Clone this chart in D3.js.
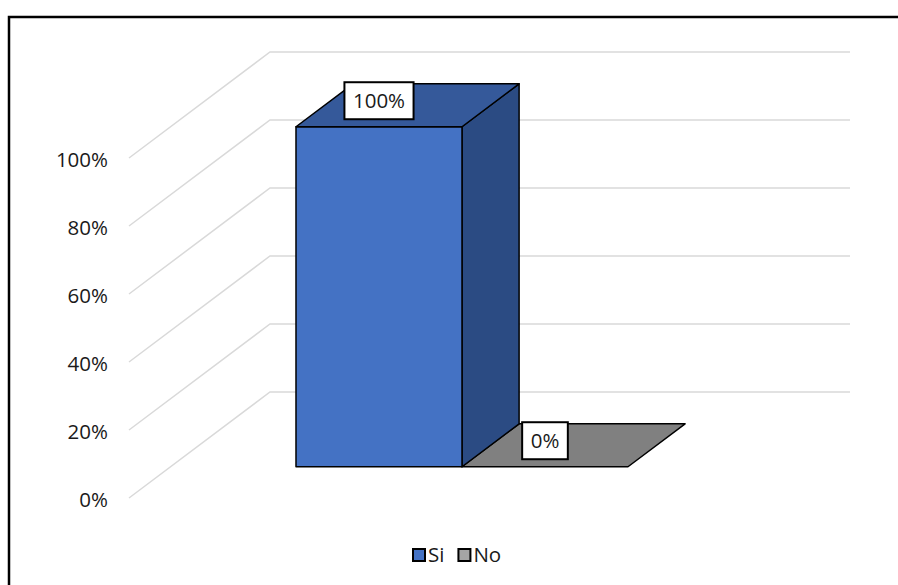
<!DOCTYPE html>
<html>
<head>
<meta charset="utf-8">
<script src="https://cdn.jsdelivr.net/npm/d3@7"></script>
<style>
  html, body { margin: 0; padding: 0; background: #fff; }
  svg { display: block; font-family: "Open Sans", sans-serif; }
</style>
</head>
<body>
<svg id="chart" width="898" height="585"></svg>
<script>
// Survey answers and their share
const categories = ["Si", "No"];
const values = [1.0, 0.0];
const tickValues = [0, 0.2, 0.4, 0.6, 0.8, 1.0];
const frontColors = ["#4472C4", "#A5A5A5"];
const topColors = ["#35599A", "#808080"];
const sideColors = ["#2B4B83", "#6E6E6E"];

const svg = d3.select("#chart");
const FONT = 20.5;

// Oblique 3D projection: full depth of the plot box
const DEPTH_X = 141, DEPTH_Y = -106;
const barZ0 = 0.295, barZ1 = 0.70;

// Value scale on the front plane
const y = d3.scaleLinear().domain([0, 1]).range([498, 158]);
// Category scale on the front plane
const x = d3.scaleBand().domain(categories).range([254.4, 586.4]).paddingInner(0).paddingOuter(0);
const wallLeft = 129, wallRight = 709;

const proj = (px, py, z) => [px + z * DEPTH_X, py + z * DEPTH_Y];

// Outer frame
svg.append("rect")
  .attr("x", 9).attr("y", 17).attr("width", 1000).attr("height", 1000)
  .attr("fill", "none").attr("stroke", "#000").attr("stroke-width", 2.5);

// Gridlines on the side wall and back wall
const grid = svg.append("g");
tickValues.forEach(t => {
  const a = proj(wallLeft, y(t), 0);
  const b = proj(wallLeft, y(t), 1);
  const c = proj(wallRight, y(t), 1);
  grid.append("path")
    .attr("d", `M${a[0]},${a[1]}L${b[0]},${b[1]}L${c[0]},${c[1]}`)
    .attr("fill", "none").attr("stroke", "#D9D9D9").attr("stroke-width", 1.5);
});

// Value axis labels
const axis = d3.axisLeft(y).tickValues(tickValues).tickFormat(d3.format(".0%")).tickSize(0).tickPadding(21);
const axG = svg.append("g").attr("transform", `translate(${wallLeft},2)`).call(axis);
axG.select(".domain").remove();
axG.selectAll("text").attr("font-size", FONT).attr("fill", "#1a1a1a").attr("font-family", "Open Sans, sans-serif");

// Bars (drawn back-to-front: right category first)
const bars = categories.map((c, i) => ({ c, v: values[i], i })).reverse();
const barG = svg.append("g");
bars.forEach(d => {
  const x0 = x(d.c), x1 = x(d.c) + x.bandwidth();
  const fTL = proj(x0, y(d.v), barZ0), fTR = proj(x1, y(d.v), barZ0);
  const fBL = proj(x0, y(0), barZ0), fBR = proj(x1, y(0), barZ0);
  const bTL = proj(x0, y(d.v), barZ1), bTR = proj(x1, y(d.v), barZ1);
  const bBR = proj(x1, y(0), barZ1);
  const poly = pts => "M" + pts.map(p => p.join(",")).join("L") + "Z";
  const style = sel => sel.attr("stroke", "#000").attr("stroke-width", 1.5).attr("stroke-linejoin", "round");
  if (d.v > 0) {
    style(barG.append("path").attr("d", poly([fTR, bTR, bBR, fBR])).attr("fill", sideColors[d.i]));
    style(barG.append("path").attr("d", poly([fTL, fTR, fBR, fBL])).attr("fill", frontColors[d.i]));
  }
  style(barG.append("path").attr("d", poly([fTL, bTL, bTR, fTR])).attr("fill", topColors[d.i]));
});

// Data labels in white boxes
const labG = svg.append("g");
categories.forEach((c, i) => {
  const cx = x(c) + x.bandwidth() / 2 + barZ0 * DEPTH_X;
  const cy = y(values[i]) + barZ0 * DEPTH_Y - 26;
  const g = labG.append("g").attr("transform", `translate(${cx},${cy})`);
  const rect = g.append("rect").attr("fill", "#fff").attr("stroke", "#000").attr("stroke-width", 2);
  const txt = g.append("text").text(d3.format(".0%")(values[i]))
    .attr("text-anchor", "middle").attr("dy", "0.36em")
    .attr("font-size", FONT).attr("fill", "#1a1a1a");
  const w = txt.node().getComputedTextLength() + 17;
  rect.attr("x", -w / 2).attr("y", -18.5).attr("width", w).attr("height", 37);
});

// Legend
const legend = svg.append("g").attr("transform", "translate(412,548)");
let lx = 0;
categories.forEach((c, i) => {
  const g = legend.append("g").attr("transform", `translate(${lx},0)`);
  g.append("rect").attr("x", 1).attr("y", 1).attr("width", 12).attr("height", 12)
    .attr("fill", frontColors[i]).attr("stroke", "#000").attr("stroke-width", 2);
  const t = g.append("text").attr("x", 16).attr("y", 14).text(c)
    .attr("font-size", FONT).attr("fill", "#1a1a1a");
  lx += 16 + t.node().getComputedTextLength() + 13;
});
</script>
</body>
</html>
